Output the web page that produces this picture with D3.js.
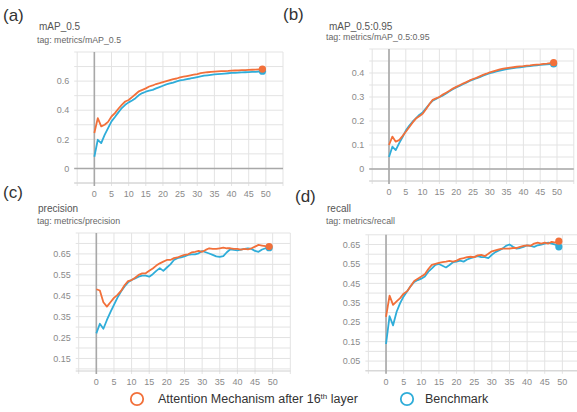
<!DOCTYPE html>
<html><head><meta charset="utf-8">
<script src="https://cdn.jsdelivr.net/npm/d3@7"></script>
<style>html,body{margin:0;padding:0;background:#fff}svg{display:block;font-family:"Liberation Sans",Arial,sans-serif}</style>
</head><body><svg id="c" width="577" height="412"></svg>
<script>
const epochs = d3.range(0, 50);
const xTicks = [0,5,10,15,20,25,30,35,40,45,50];
const seriesNames = ["Attention Mechanism after 16th layer", "Benchmark"];

const map05Attn = [0.243,0.346,0.289,0.300,0.320,0.357,0.380,0.410,0.437,0.460,0.470,0.490,0.510,0.530,0.540,0.550,0.563,0.570,0.580,0.586,0.593,0.600,0.607,0.614,0.618,0.625,0.630,0.635,0.640,0.644,0.648,0.655,0.658,0.661,0.663,0.665,0.667,0.668,0.669,0.670,0.672,0.673,0.674,0.675,0.676,0.677,0.678,0.679,0.681,0.683];
const map05Base = [0.080,0.197,0.174,0.230,0.277,0.323,0.353,0.385,0.415,0.437,0.454,0.467,0.483,0.504,0.518,0.527,0.534,0.540,0.550,0.559,0.568,0.577,0.584,0.590,0.598,0.605,0.609,0.614,0.618,0.623,0.628,0.633,0.637,0.640,0.643,0.646,0.648,0.650,0.652,0.654,0.656,0.657,0.659,0.660,0.661,0.662,0.663,0.664,0.666,0.668];

const map0595Attn = [0.100,0.135,0.114,0.120,0.137,0.155,0.174,0.193,0.210,0.220,0.230,0.249,0.270,0.288,0.294,0.300,0.310,0.318,0.326,0.335,0.342,0.349,0.356,0.362,0.369,0.375,0.380,0.386,0.392,0.397,0.403,0.407,0.411,0.415,0.418,0.420,0.422,0.424,0.426,0.428,0.429,0.431,0.432,0.434,0.435,0.436,0.438,0.439,0.441,0.443];
const map0595Base = [0.050,0.093,0.079,0.107,0.132,0.160,0.180,0.197,0.211,0.225,0.235,0.253,0.270,0.285,0.292,0.300,0.306,0.315,0.324,0.332,0.340,0.346,0.353,0.360,0.367,0.372,0.378,0.383,0.389,0.394,0.399,0.403,0.407,0.410,0.413,0.416,0.418,0.420,0.422,0.424,0.426,0.428,0.429,0.431,0.432,0.434,0.435,0.436,0.437,0.438];

const precAttn = [0.481,0.475,0.419,0.398,0.419,0.440,0.454,0.473,0.500,0.520,0.525,0.536,0.550,0.557,0.557,0.569,0.580,0.594,0.605,0.613,0.621,0.621,0.630,0.633,0.640,0.645,0.648,0.657,0.660,0.664,0.660,0.669,0.677,0.674,0.674,0.677,0.680,0.677,0.677,0.674,0.674,0.671,0.674,0.672,0.677,0.685,0.693,0.690,0.687,0.685];
const precBase = [0.270,0.316,0.292,0.334,0.371,0.406,0.441,0.470,0.494,0.514,0.525,0.533,0.541,0.546,0.546,0.541,0.553,0.569,0.582,0.569,0.585,0.600,0.621,0.630,0.633,0.638,0.645,0.648,0.648,0.653,0.664,0.658,0.652,0.645,0.638,0.636,0.639,0.658,0.672,0.669,0.667,0.671,0.674,0.677,0.674,0.664,0.660,0.671,0.677,0.680];

const recAttn = [0.278,0.387,0.339,0.357,0.374,0.397,0.410,0.436,0.462,0.474,0.485,0.497,0.524,0.545,0.550,0.555,0.559,0.562,0.566,0.562,0.567,0.576,0.580,0.585,0.587,0.585,0.594,0.597,0.590,0.602,0.615,0.620,0.625,0.629,0.629,0.629,0.632,0.632,0.638,0.643,0.646,0.643,0.655,0.660,0.655,0.660,0.655,0.664,0.660,0.667];
const recBase = [0.138,0.281,0.234,0.304,0.348,0.383,0.410,0.436,0.457,0.467,0.474,0.485,0.510,0.527,0.545,0.550,0.541,0.532,0.545,0.559,0.562,0.567,0.562,0.573,0.580,0.585,0.590,0.585,0.585,0.580,0.597,0.611,0.620,0.629,0.643,0.650,0.638,0.629,0.632,0.638,0.646,0.643,0.638,0.646,0.650,0.655,0.660,0.655,0.650,0.638];

const ticksA = [0,0.2,0.4,0.6];
const ticksB = [0,0.1,0.2,0.3,0.4];
const ticksC = [0.15,0.25,0.35,0.45,0.55,0.65];
const ticksD = [0.05,0.15,0.25,0.35,0.45,0.55,0.65];

const ORANGE = "#f2703a", BLUE = "#2fadd9";
const svg = d3.select("#c");
svg.append("rect").attr("width",577).attr("height",412).attr("fill","#fff");

const panels = [
  {letter:"(a)", lx:3, ly:21, title:"mAP_0.5", tag:"tag: metrics/mAP_0.5", tx:39, ty:30, tgx:37, tgy:42.5,
   xr:[77.2,283], yd:[-0.1,0.8], yr:[183,52], ygrid:0.1, yt:ticksA, fmt:d=>d===0?"0":d3.format(".1f")(d), zero:true,
   a:map05Attn, b:map05Base},
  {letter:"(b)", lx:283, ly:20, title:"mAP_0.5:0.95", tag:"tag: metrics/mAP_0.5:0.95", tx:329, ty:29.5, tgx:326, tgy:40,
   xr:[372.2,573.8], yd:[-0.05,0.5], yr:[181,49], ygrid:0.05, yt:ticksB, fmt:d=>d===0?"0":d3.format(".1f")(d), zero:true,
   a:map0595Attn, b:map0595Base},
  {letter:"(c)", lx:3, ly:198, title:"precision", tag:"tag: metrics/precision", tx:38, ty:211.5, tgx:37, tgy:223.5,
   xr:[78.7,290.3], yd:[0.09,0.75], yr:[371,233], ygrid:0.05, yt:ticksC, fmt:d3.format(".2f"), zero:false,
   a:precAttn, b:precBase},
  {letter:"(d)", lx:295, ly:202, title:"recall", tag:"tag: metrics/recall", tx:327, ty:212, tgx:326, tgy:224,
   xr:[368.4,580], yd:[0,0.70], yr:[370.8,234.8], ygrid:0.05, yt:ticksD, fmt:d3.format(".2f"), zero:false,
   a:recAttn, b:recBase}
];

panels.forEach(p => {
  const x = d3.scaleLinear().domain([-5,55]).range(p.xr);
  const y = d3.scaleLinear().domain(p.yd).range(p.yr);
  const g = svg.append("g");
  const left = Math.max(p.xr[0], 0), right = Math.min(p.xr[1], 577);
  const top = p.yr[1], bottom = p.yr[0];
  const nH = Math.round((p.yd[1]-p.yd[0])/p.ygrid);
  const hv = d3.range(0, nH+1).map(i => +(Math.ceil(p.yd[0]/p.ygrid)*p.ygrid + i*p.ygrid).toFixed(3)).filter(v => v>=p.yd[0]-1e-9 && v<=p.yd[1]+1e-9);
  g.selectAll(".hg").data(hv).join("line")
    .attr("x1", left-3).attr("x2", right).attr("y1", d=>y(d)).attr("y2", d=>y(d))
    .attr("stroke","#e3e3e3").attr("stroke-width",1);
  const vv = d3.range(-5, 56, 5);
  g.selectAll(".vg").data(vv).join("line")
    .attr("x1", d=>x(d)).attr("x2", d=>x(d)).attr("y1", top).attr("y2", bottom+3)
    .attr("stroke","#e3e3e3").attr("stroke-width",1);
  g.append("line").attr("x1",left-3).attr("x2",right).attr("y1",bottom).attr("y2",bottom)
    .attr("stroke","#d0d0d0").attr("stroke-width",1);
  g.append("line").attr("x1",x(0)).attr("x2",x(0)).attr("y1",top).attr("y2",bottom+3)
    .attr("stroke","#a8a8a8").attr("stroke-width",1.6);
  if (p.zero) g.append("line").attr("x1",left-3).attr("x2",right).attr("y1",y(0)).attr("y2",y(0))
    .attr("stroke","#a8a8a8").attr("stroke-width",1.4);
  g.selectAll(".yl").data(p.yt).join("text")
    .attr("x", p.xr[0]-8).attr("y", d=>y(d)+3.2).attr("text-anchor","end")
    .attr("font-size",9).attr("fill","#8a8a8a").text(p.fmt);
  g.selectAll(".xl").data(xTicks).join("text")
    .attr("x", d=>x(d)).attr("y", bottom+14).attr("text-anchor","middle")
    .attr("font-size",9).attr("fill","#8a8a8a").text(d=>d);
  const line = d3.line().x((d,i)=>x(epochs[i])).y(d=>y(d));
  g.append("path").datum(p.b).attr("d",line).attr("fill","none").attr("stroke",BLUE).attr("stroke-width",1.8).attr("stroke-linejoin","round");
  g.append("path").datum(p.a).attr("d",line).attr("fill","none").attr("stroke",ORANGE).attr("stroke-width",1.8).attr("stroke-linejoin","round");
  g.append("circle").attr("cx",x(epochs[49])).attr("cy",y(p.b[49])).attr("r",3.6).attr("fill",BLUE);
  g.append("circle").attr("cx",x(epochs[49])).attr("cy",y(p.a[49])).attr("r",3.6).attr("fill",ORANGE);
  svg.append("text").attr("x",p.lx).attr("y",p.ly).attr("font-size",17).attr("fill","#333").text(p.letter);
  svg.append("text").attr("x",p.tx).attr("y",p.ty).attr("font-size",10).attr("fill","#555").text(p.title);
  svg.append("text").attr("x",p.tgx).attr("y",p.tgy).attr("font-size",8.8).attr("fill","#666").text(p.tag);
});

const lg = svg.append("g");
lg.append("circle").attr("cx",137).attr("cy",399).attr("r",6.2).attr("fill","#fff").attr("stroke",ORANGE).attr("stroke-width",1.8);
const t1 = lg.append("text").attr("x",158).attr("y",403).attr("font-size",12.5).attr("fill","#333");
t1.append("tspan").text("Attention Mechanism after 16");
t1.append("tspan").attr("font-size",8).attr("dy",-4.5).text("th");
t1.append("tspan").attr("dy",4.5).text(" layer");
lg.append("circle").attr("cx",407).attr("cy",399).attr("r",6.2).attr("fill","#fff").attr("stroke",BLUE).attr("stroke-width",1.8);
lg.append("text").attr("x",425).attr("y",403).attr("font-size",12.5).attr("fill","#333").text(seriesNames[1]);
</script></body></html>
